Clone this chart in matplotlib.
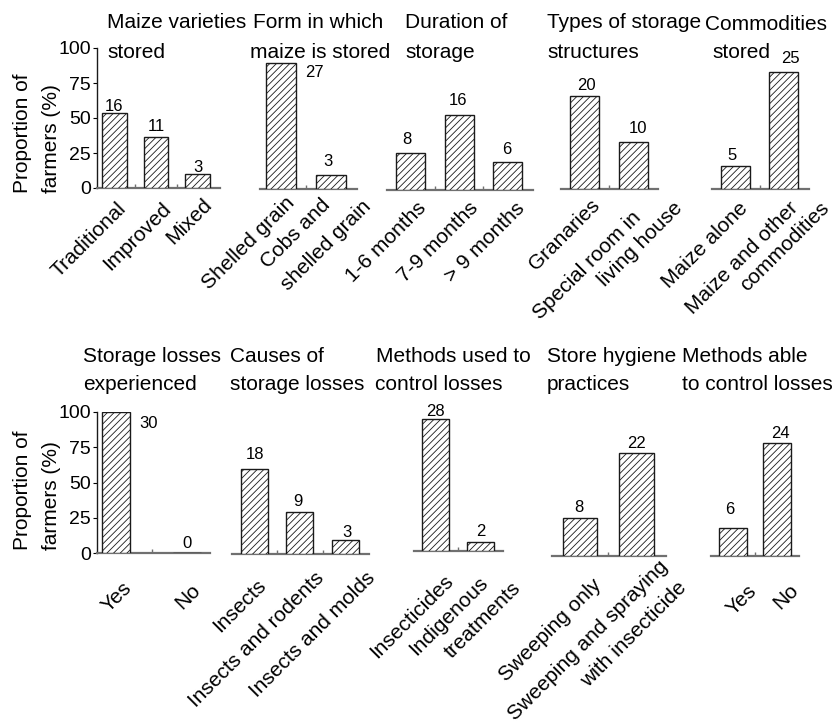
import matplotlib
matplotlib.use('Agg')
import matplotlib.pyplot as plt

plt.rcParams['font.family'] = ['Liberation Sans', 'DejaVu Sans']
plt.rcParams['hatch.linewidth'] = 0.6
plt.rcParams['hatch.color'] = '#222222'

# ---------------- data ----------------
varieties_cats = ['Traditional', 'Improved', 'Mixed']
varieties_pct = [53.3, 36.7, 10.0]
varieties_n = [16, 11, 3]

form_cats = ['Shelled grain', 'Cobs and\nshelled grain']
form_pct = [90.0, 10.0]
form_n = [27, 3]

duration_cats = ['1-6 months', '7-9 months', '> 9 months']
duration_pct = [26.7, 53.3, 20.0]
duration_n = [8, 16, 6]

structures_cats = ['Granaries', 'Special room in\nliving house']
structures_pct = [66.7, 33.3]
structures_n = [20, 10]

commodities_cats = ['Maize alone', 'Maize and other\ncommodities']
commodities_pct = [16.7, 83.3]
commodities_n = [5, 25]

losses_cats = ['Yes', 'No']
losses_pct = [100.0, 0.0]
losses_n = [30, 0]

causes_cats = ['Insects', 'Insects and rodents', 'Insects and molds']
causes_pct = [60.0, 30.0, 10.0]
causes_n = [18, 9, 3]

methods_cats = ['Insecticides', 'Indigenous\ntreatments']
methods_pct = [93.3, 6.7]
methods_n = [28, 2]

hygiene_cats = ['Sweeping only', 'Sweeping and spraying\nwith insecticide']
hygiene_pct = [26.7, 73.3]
hygiene_n = [8, 22]

able_cats = ['Yes', 'No']
able_pct = [20.0, 80.0]
able_n = [6, 24]

titles = [
    'Maize varieties\nstored', 'Form in which\nmaize is stored', 'Duration of\nstorage',
    'Types of storage\nstructures', 'Commodities\nstored',
    'Storage losses\nexperienced', 'Causes of\nstorage losses', 'Methods used to\ncontrol losses',
    'Store hygiene\npractices', 'Methods able\nto control losses',
]
y_label = 'Proportion of\nfarmers (%)'
y_ticks = [0, 25, 50, 75, 100]

panels_data = [
    (varieties_cats, varieties_pct, varieties_n),
    (form_cats, form_pct, form_n),
    (duration_cats, duration_pct, duration_n),
    (structures_cats, structures_pct, structures_n),
    (commodities_cats, commodities_pct, commodities_n),
    (losses_cats, losses_pct, losses_n),
    (causes_cats, causes_pct, causes_n),
    (methods_cats, methods_pct, methods_n),
    (hygiene_cats, hygiene_pct, hygiene_n),
    (able_cats, able_pct, able_n),
]

# ---------------- layout (pixels of an 833x724 canvas) ----------------
W, H = 833, 724
# left, right, baseline y, height of 0-100 range, xlim, bar width
layout = [
    dict(L=97, R=220, base=188, h=140, xlim=(-0.42, 2.54), w=0.6),
    dict(L=260, R=357, base=189, h=140, xlim=(-0.42, 1.52), w=0.6),
    dict(L=387, R=533, base=190, h=140, xlim=(-0.485, 2.52), w=0.6),
    dict(L=561, R=658, base=189, h=140, xlim=(-0.48, 1.5), w=0.59),
    dict(L=712, R=809, base=189, h=140, xlim=(-0.49, 1.53), w=0.6),
    dict(L=97, R=210, base=553, h=141, xlim=(-0.27, 1.32), w=0.4),
    dict(L=232, R=369, base=554, h=141, xlim=(-0.49, 2.52), w=0.6),
    dict(L=414, R=503, base=551, h=141, xlim=(-0.49, 1.5), w=0.6),
    dict(L=552, R=666, base=556, h=141, xlim=(-0.5, 1.52), w=0.61),
    dict(L=711, R=799, base=556, h=141, xlim=(-0.5, 1.5), w=0.64),
]
# title line positions: (x line1, x line2, y line1, y line2)
title_pos = [
    (107, 107, 23, 52), (253, 250, 23, 52), (405, 405, 23, 52), (547, 547, 23, 52), (705, 712, 24, 53),
    (83, 83, 356, 384), (230, 230, 356, 384), (376, 375, 356, 384), (547, 547, 356, 384), (682, 682, 356, 384),
]
# tick-label line anchor offsets (dx right, dy down) in px from (bar centre, baseline)
tick_off = [
    [[(8.5, 18)], [(11.5, 18)], [(11.5, 14)]],
    [[(11, 11)], [(-4, 13), (37, 14)]],
    [[(12.5, 15)], [(16, 15)], [(14.5, 15)]],
    [[(12.5, 13)], [(4.5, 26), (46.5, 16)]],
    [[(9.5, 16)], [(11.5, 16), (43, 16)]],
    [[(12, 32)], [(10, 34)]],
    [[(8.5, 28)], [(21.5, 21)], [(26.5, 21)]],
    [[(14, 27)], [(4.5, 29), (37.5, 34)]],
    [[(18, 26)], [(28, 8), (46.5, 29)]],
    [[(21, 32)], [(18, 31)]],
]
# count label offsets (dx, dy up) in px from bar top centre
count_off = [
    [(0, 7), (0.5, 10), (0.5, 7)],
    [(33, -10), (-3, 13)],
    [(-3.5, 13), (-1, 15), (-0.5, 12)],
    [(1.5, 10), (4.5, 14)],
    [(-3.5, 10), (6.5, 14)],
    [(32, -12), (0, 10)],
    [(0.5, 15), (-1.5, 10), (1.5, 7)],
    [(0, 8), (0.5, 10)],
    [(-1, 11), (-0.5, 9)],
    [(-3, 18), (3, 10)],
]
ylabel_bottom = [193, 550]

TITLE_FS = 15
TICK_FS = 15
YTICK_FS = 14
COUNT_FS = 12

fig = plt.figure(figsize=(W / 100, H / 100), dpi=100)

for k, ((cats, pct, n), lay) in enumerate(zip(panels_data, layout)):
    ax = fig.add_axes([lay['L'] / W, 1 - lay['base'] / H,
                       (lay['R'] - lay['L']) / W, lay['h'] / H])
    x = list(range(len(cats)))
    ax.bar(x, pct, width=lay['w'], color='white', edgecolor='#1a1a1a',
           hatch='/////', linewidth=1.0, zorder=3)
    ax.set_xlim(*lay['xlim'])
    ax.set_ylim(0, 100)
    for s in ('top', 'right'):
        ax.spines[s].set_visible(False)
    ax.spines['bottom'].set_color('#707070')
    ax.spines['bottom'].set_linewidth(1.6)
    ax.set_xticks([])
    ax.set_xticks([i + 0.5 for i in x[:-1]], minor=True)
    ax.tick_params(axis='x', which='minor', direction='in', length=3,
                   color='#707070', width=1)
    if k in (0, 5):
        ax.spines['left'].set_color('#1a1a1a')
        ax.spines['left'].set_linewidth(1.0)
        ax.set_yticks(y_ticks)
        ax.tick_params(axis='y', direction='out', length=3, pad=1.5,
                       labelsize=YTICK_FS)
    else:
        ax.spines['left'].set_visible(False)
        ax.set_yticks([])

    # count labels
    for i, (v, c) in enumerate(zip(pct, n)):
        dx, dy = count_off[k][i]
        ax.annotate(str(c), xy=(i, v), xytext=(dx, dy), textcoords='offset pixels',
                    ha='center', va='center', fontsize=COUNT_FS,
                    annotation_clip=False, zorder=5)

    # rotated category labels
    for i, cat in enumerate(cats):
        lines = cat.split('\n')
        for line, (dx, dy) in zip(lines, tick_off[k][i]):
            ax.annotate(line, xy=(i, 0), xytext=(dx, -dy), textcoords='offset pixels',
                        ha='right', va='center', rotation=45, rotation_mode='anchor',
                        fontsize=TICK_FS, annotation_clip=False)

    # title lines
    x1, x2, y1, y2 = title_pos[k]
    t1, t2 = titles[k].split('\n')
    fig.text(x1 / W, 1 - y1 / H, t1, ha='left', va='center', fontsize=TITLE_FS)
    fig.text(x2 / W, 1 - y2 / H, t2, ha='left', va='center', fontsize=TITLE_FS)

for yb in ylabel_bottom:
    fig.text(37 / W, 1 - yb / H, y_label, rotation=90, ha='center', va='bottom',
             multialignment='left', fontsize=TITLE_FS, linespacing=1.7)

fig.savefig('out.png', dpi=100)
